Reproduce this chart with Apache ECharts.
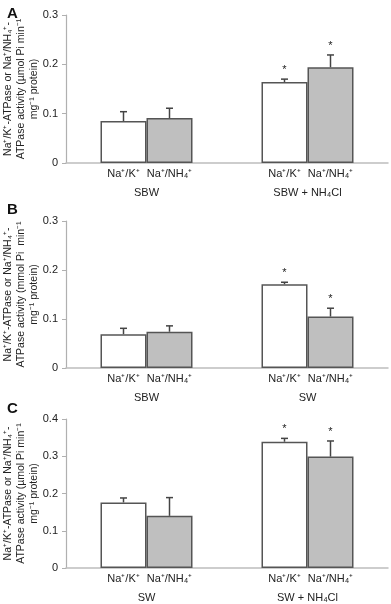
<!DOCTYPE html>
<html>
<head>
<meta charset="utf-8">
<script src="https://cdn.jsdelivr.net/npm/echarts@6/dist/echarts.min.js"></script>
<style>
html, body { margin: 0; padding: 0; background: #fff; }
#chart { width: 391px; height: 604px; }
</style>
</head>
<body>
<div id="chart"></div>
<script>
// ion labels under each bar
var ionLabels = ['Na⁺/K⁺', 'Na⁺/NH₄⁺'];

// groups per panel
var groupsA = ['SBW', 'SBW + NH₄Cl'];
var groupsB = ['SBW', 'SW'];
var groupsC = ['SW', 'SW + NH₄Cl'];

// means (white = Na+/K+, gray = Na+/NH4+)
var whiteA = [0.085, 0.164];
var grayA = [0.091, 0.194];
var whiteErrA = [0.019, 0.006];
var grayErrA = [0.020, 0.025];

var whiteB = [0.069, 0.171];
var grayB = [0.074, 0.105];
var whiteErrB = [0.012, 0.004];
var grayErrB = [0.012, 0.017];

var whiteC = [0.176, 0.339];
var grayC = [0.140, 0.299];
var whiteErrC = [0.012, 0.009];
var grayErrC = [0.049, 0.042];

// significance stars (1 = marked)
var starsWhite = [0, 1];
var starsGray = [0, 1];

// y axis ranges
var yMaxA = 0.3, yMaxB = 0.3, yMaxC = 0.4;

var yTitle = 'Na⁺/K⁺-ATPase or Na⁺/NH₄⁺-\nATPase activity (µmol Pi min⁻¹\nmg⁻¹ protein)';
var yTitleB = 'Na⁺/K⁺-ATPase or Na⁺/NH₄⁺-\nATPase activity (mmol Pi  min⁻¹\nmg⁻¹ protein)';

var BAR_W = 46;
var FONT = 'Liberation Sans, Arial, sans-serif';

var grids = [
    {left: 66, top: 15, width: 322, height: 148, outerBoundsMode: 'none'},
    {left: 66, top: 221, width: 322, height: 147, outerBoundsMode: 'none'},
    {left: 66, top: 419, width: 322, height: 149, outerBoundsMode: 'none'}
];

var panels = [
    {groups: groupsA, white: whiteA, gray: grayA, we: whiteErrA, ge: grayErrA, max: yMaxA, interval: 0.1, title: yTitle},
    {groups: groupsB, white: whiteB, gray: grayB, we: whiteErrB, ge: grayErrB, max: yMaxB, interval: 0.1, title: yTitleB},
    {groups: groupsC, white: whiteC, gray: grayC, we: whiteErrC, ge: grayErrC, max: yMaxC, interval: 0.1, title: yTitle}
];

var xAxes = [], yAxes = [], series = [];

panels.forEach(function (p, i) {
    xAxes.push({
        type: 'category',
        gridIndex: i,
        data: p.groups,
        axisLine: {lineStyle: {color: '#bdbdbd', width: 1.5}},
        axisTick: {show: false},
        axisLabel: {margin: 24, fontSize: 11, color: '#222', fontFamily: FONT}
    });
    yAxes.push({
        type: 'value',
        gridIndex: i,
        min: 0,
        max: p.max,
        interval: p.interval,
        name: p.title,
        nameLocation: 'middle',
        nameRotate: 90,
        nameGap: 25,
        nameMoveOverlap: false,
        nameTextStyle: {fontSize: 10.5, color: '#222', fontFamily: FONT, lineHeight: 13},
        axisLine: {show: true, lineStyle: {color: '#b0b0b0', width: 1.2}},
        axisTick: {show: true, length: 4, lineStyle: {color: '#b0b0b0'}},
        splitLine: {show: false},
        axisLabel: {
            margin: 8, fontSize: 11, color: '#222', fontFamily: FONT,
            formatter: function (v) { return v === 0 ? '0' : v.toFixed(1); }
        }
    });

    [['white', p.white, p.we, '#ffffff', starsWhite, -1, ionLabels[0]],
     ['gray', p.gray, p.ge, '#bfbfbf', starsGray, 1, ionLabels[1]]].forEach(function (s) {
        series.push({
            type: 'bar',
            name: s[6],
            xAxisIndex: i,
            yAxisIndex: i,
            data: s[1],
            barWidth: BAR_W,
            barGap: '0%',
            itemStyle: {color: s[3], borderColor: '#555', borderWidth: 1.5},
            label: {
                show: true, position: 'bottom', distance: 5,
                formatter: s[6], fontSize: 11, color: '#222', fontFamily: FONT
            },
            z: 2
        });
        var side = s[5], errs = s[2], stars = s[4], means = s[1];
        series.push({
            type: 'custom',
            xAxisIndex: i,
            yAxisIndex: i,
            clip: false,
            z: 3,
            data: means.map(function (m, k) { return [k, m, m + errs[k], stars[k]]; }),
            renderItem: function (params, api) {
                var base = api.coord([api.value(0), api.value(1)]);
                var top = api.coord([api.value(0), api.value(2)]);
                var x = base[0] + side * BAR_W / 2;
                var ls = {stroke: '#444', lineWidth: 1.5};
                var kids = [
                    {type: 'line', shape: {x1: x, y1: base[1], x2: x, y2: top[1]}, style: ls},
                    {type: 'line', shape: {x1: x - 3.5, y1: top[1], x2: x + 3.5, y2: top[1]}, style: ls}
                ];
                if (api.value(3)) {
                    kids.push({type: 'text', x: x, y: top[1] - 9,
                        style: {text: '*', fill: '#222', align: 'center', verticalAlign: 'middle', font: '11px ' + FONT}});
                }
                return {type: 'group', children: kids};
            }
        });
    });
});

var chart = echarts.init(document.getElementById('chart'));
chart.setOption({
    animation: false,
    backgroundColor: '#fff',
    title: [
        {text: 'A', left: 2, top: 1, textStyle: {fontSize: 15, fontWeight: 'bold', color: '#111', fontFamily: FONT}},
        {text: 'B', left: 2, top: 197, textStyle: {fontSize: 15, fontWeight: 'bold', color: '#111', fontFamily: FONT}},
        {text: 'C', left: 2, top: 396, textStyle: {fontSize: 15, fontWeight: 'bold', color: '#111', fontFamily: FONT}}
    ],
    grid: grids,
    xAxis: xAxes,
    yAxis: yAxes,
    series: series
});
</script>
</body>
</html>
